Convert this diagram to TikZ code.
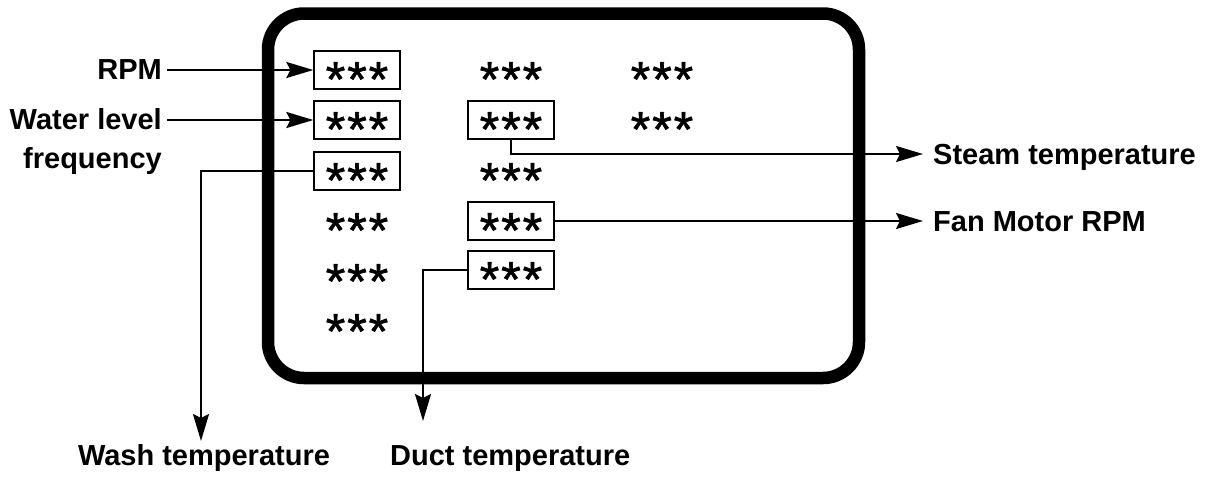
\documentclass[tikz,border=0pt]{standalone}
\usepackage{fontspec}
\setmainfont{Liberation Sans}
\newfontfamily\starfont[FakeBold=1.3]{Liberation Sans}
\usetikzlibrary{arrows.meta}
\newcommand{\strs}{\raisebox{-0.53em}{*\kern2pt*\kern2pt*}}
\tikzset{
  x=1pt, y=-1pt,
  starnode/.style={inner sep=0pt, text height=0pt, text depth=0pt, font=\starfont\fontsize{50}{50}\selectfont},
  valbox/.style={starnode, draw, line width=1.3pt, minimum width=86pt, minimum height=38pt},
  lbl/.style={inner sep=0pt, font=\fontsize{29}{34}\selectfont\bfseries},
  conn/.style={line width=2.2pt},
  arr/.style={conn, -{Stealth[length=27pt, width=16pt, inset=4pt]}},
  screen/.style={line width=12.5pt, rounded corners=36pt}
}
\begin{document}
\begin{tikzpicture}
\useasboundingbox (0,0) rectangle (1215,477);
% screen frame
\draw[screen] (268,13.5) rectangle (859,378);
% column 1
\node[valbox] (a1) at (357,70) {\strs};
\node[valbox] (a2) at (357,120) {\strs};
\node[valbox] (a3) at (357,171) {\strs};
\node[starnode] (a4) at (357,221) {\strs};
\node[starnode] (a5) at (357,272) {\strs};
\node[starnode] (a6) at (357,322) {\strs};
% column 2
\node[starnode] (b1) at (511,70) {\strs};
\node[valbox] (b2) at (511,120) {\strs};
\node[starnode] (b3) at (511,171) {\strs};
\node[valbox] (b4) at (511,221) {\strs};
\node[valbox] (b5) at (511,270) {\strs};
% column 3
\node[starnode] (c1) at (662,70) {\strs};
\node[starnode] (c2) at (662,120) {\strs};
% labels
\node[lbl, anchor=east] (rpm) at (162,70) {RPM};
\node[lbl, anchor=east] (wl) at (162,119) {Water level};
\node[lbl, anchor=base east] (fq) at (162,168) {frequency};
\node[lbl, anchor=base west] (st) at (933,164) {Steam temperature};
\node[lbl, anchor=base west] (fm) at (933,231) {Fan Motor RPM};
\node[lbl, anchor=base] (wt) at (204,465) {Wash temperature};
\node[lbl, anchor=base west] (dt) at (390,465) {Duct temperature};
% corner coordinates
\coordinate (stc) at (511,154);
\coordinate (stend) at (923,154);
\coordinate (fmend) at (923,221);
\coordinate (wtc) at (201,171);
\coordinate (wtend) at (201,441);
\coordinate (dtc) at (423,270);
\coordinate (dtend) at (423,421);
% connectors
\draw[arr] ([xshift=5pt]rpm.east) -- (a1.west);
\draw[arr] ([xshift=5pt]wl.east |- a2.west) -- (a2.west);
\draw[arr] (b2.south) -- (stc) -- (stend);
\draw[arr] (b4.east) -- (fmend);
\draw[arr] (a3.west) -- (wtc) -- (wtend);
\draw[arr] (b5.west) -- (dtc) -- (dtend);
\end{tikzpicture}
\end{document}
